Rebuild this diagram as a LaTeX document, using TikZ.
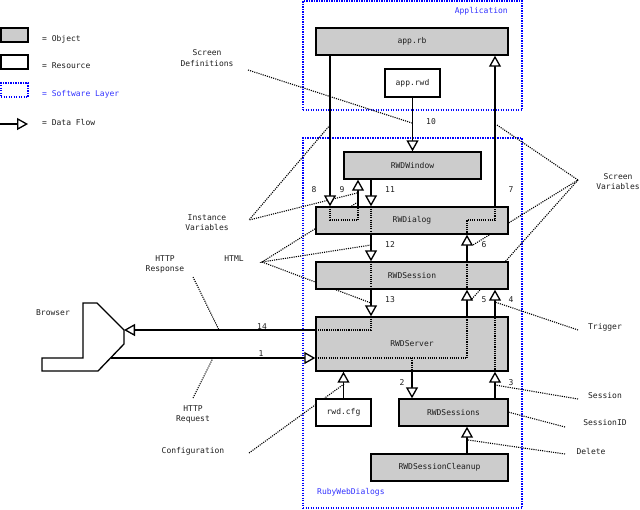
\documentclass[tikz,border=0pt]{standalone}
\usepackage{fontspec}
\setmonofont{DejaVu Sans Mono}
\usetikzlibrary{arrows.meta}
\definecolor{objgray}{RGB}{204,204,204}
\definecolor{layerblue}{RGB}{0,0,255}
\definecolor{txtblue}{RGB}{51,51,255}
\definecolor{ink}{RGB}{30,30,30}
\tikzset{
  every node/.style={font=\ttfamily\fontsize{8}{10.5}\selectfont, text=ink},
  obj/.style={draw=black, line width=1.4pt, fill=objgray, inner sep=0pt},
  res/.style={draw=black, line width=1.4pt, fill=white, inner sep=0pt},
  layer/.style={draw=layerblue, line width=1.2pt, dash pattern=on 1.2pt off 1.3pt},
  leader/.style={draw=black, line width=1.1pt, dash pattern=on 1.1pt off 1.1pt},
  innerpath/.style={draw=black, line width=1.1pt, dash pattern=on 1.1pt off 1.1pt},
  flow/.style={draw=black, line width=1.3pt, -{Triangle[length=11pt, width=12pt, fill=white]}},
  wire/.style={draw=black, line width=1.3pt},
  lbl/.style={align=center, inner sep=0pt},
  bluelbl/.style={inner sep=0pt, text=txtblue},
}
\begin{document}
\begin{tikzpicture}[x=1pt,y=-1pt]
\useasboundingbox (0,0) rectangle (640,509);

% ---------- legend ----------
\node[obj, minimum width=27pt, minimum height=14pt] (lgobj) at (14.5,35) {};
\node[res, minimum width=27pt, minimum height=14pt] (lgres) at (14.5,62) {};
\node[layer, minimum width=27pt, minimum height=14pt, inner sep=0pt] (lglay) at (14.5,90) {};
\coordinate (lgf0) at (0,124);
\coordinate (lgf1) at (28,124);
\draw[flow] (lgf0) -- (lgf1);
\node[lbl, anchor=west] (tobj) at (42,39) {= Object};
\node[lbl, anchor=west] (tres) at (42,66) {= Resource};
\node[bluelbl, anchor=west] (tlay) at (42,94) {= Software Layer};
\node[lbl, anchor=west] (tflow) at (42,122) {= Data Flow};

% ---------- software layers ----------
\node[layer, minimum width=219pt, minimum height=109pt, inner sep=0pt] (application) at (412.5,55.5) {};
\node[layer, minimum width=219pt, minimum height=370pt, inner sep=0pt] (rubyweb) at (412.5,323) {};
\node[bluelbl, anchor=east] (tapp) at (508,11) {Application};
\node[bluelbl, anchor=west] (truby) at (317,492) {RubyWebDialogs};

% ---------- annotation texts ----------
\node[lbl] (tsd) at (207,58) {Screen\\Definitions};
\node[lbl] (tiv) at (207,222.5) {Instance\\Variables};
\node[lbl] (thtml) at (234,259) {HTML};
\node[lbl] (tresp) at (165,264.5) {HTTP\\Response};
\node[lbl] (tbrowser) at (53,313) {Browser};
\node[lbl] (treq) at (193,414.5) {HTTP\\Request};
\node[lbl] (tconf) at (193,451) {Configuration};
\node[lbl] (tsv) at (618,181.5) {Screen\\Variables};
\node[lbl] (ttrig) at (605,327) {Trigger};
\node[lbl] (tsess) at (605,396) {Session};
\node[lbl] (tsid) at (605,423) {SessionID};
\node[lbl] (tdel) at (591,451) {Delete};

% ---------- leader lines (behind boxes) ----------
\coordinate (sd0) at (248,70);   \coordinate (sd1) at (412,123);
\coordinate (iv0) at (249,220);  \coordinate (iv1) at (330,125); \coordinate (iv2) at (357,193);
\coordinate (ht0) at (262,262);  \coordinate (ht1) at (358,202); \coordinate (ht2) at (371,245); \coordinate (ht3) at (371,303);
\coordinate (rs0) at (193,277);  \coordinate (rs1) at (219,330);
\coordinate (rq0) at (193,398);  \coordinate (rq1) at (213,358);
\coordinate (cf0) at (249,453);  \coordinate (cf1) at (344,384);
\coordinate (sv0) at (578,180);  \coordinate (sv1) at (497,125); \coordinate (sv2) at (473,245); \coordinate (sv3) at (471,300);
\coordinate (tg0) at (578,330);  \coordinate (tg1) at (495,302);
\coordinate (ss0) at (578,399);  \coordinate (ss1) at (495,385);
\coordinate (si0) at (565,427);  \coordinate (si1) at (508,412);
\coordinate (dl0) at (565,454);  \coordinate (dl1) at (468,440);
\draw[leader] (sd0) -- (sd1);
\draw[leader] (iv1) -- (iv0) -- (iv2);
\draw[leader] (ht1) -- (ht0) -- (ht2);
\draw[leader] (ht0) -- (ht3);
\draw[leader] (rs0) -- (rs1);
\draw[leader] (rq0) -- (rq1);
\draw[leader] (cf0) -- (cf1);
\draw[leader] (sv1) -- (sv0) -- (sv2);
\draw[leader] (sv0) -- (sv3);
\draw[leader] (tg0) -- (tg1);
\draw[leader] (ss0) -- (ss1);
\draw[leader] (si0) -- (si1);
\draw[leader] (dl0) -- (dl1);

% ---------- boxes ----------
\node[obj, minimum width=192pt, minimum height=27pt] (apprb) at (412,41.5) {app.rb};
\node[res, minimum width=55pt, minimum height=28pt] (apprwd) at (412.5,83) {app.rwd};
\node[obj, minimum width=137pt, minimum height=27pt] (rwdwin) at (412.5,165.5) {RWDWindow};
\node[obj, minimum width=192pt, minimum height=27pt] (rwdialog) at (412,220.5) {RWDialog};
\node[obj, minimum width=192pt, minimum height=27pt] (rwdsession) at (412,275.5) {RWDSession};
\node[obj, minimum width=192pt, minimum height=54pt] (rwdserver) at (412,344) {RWDServer};
\node[res, minimum width=55pt, minimum height=27pt] (rwdcfg) at (343.5,412.5) {rwd.cfg};
\node[obj, minimum width=109pt, minimum height=27pt] (rwdsessions) at (453.5,412.5) {RWDSessions};
\node[obj, minimum width=137pt, minimum height=27pt] (cleanup) at (439.5,467.5) {RWDSessionCleanup};

% ---------- browser ----------
\coordinate (b1) at (83,303);  \coordinate (b2) at (97,303);
\coordinate (brtip) at (124,330); \coordinate (b4) at (124,344);
\coordinate (b5) at (98,371);  \coordinate (b6) at (42,371);
\coordinate (b7) at (42,358);  \coordinate (b8) at (83,358);
\draw[wire, line join=miter] (b1) -- (b2) -- (brtip) -- (b4) -- (b5) -- (b6) -- (b7) -- (b8) -- cycle;
\coordinate (br1) at (110.5,358);

% ---------- columns and bends ----------
\coordinate (x8) at (330,0);
\coordinate (x9) at (358,0);
\coordinate (x11) at (371,0);
\coordinate (x2) at (412,0);
\coordinate (x5) at (467,0);
\coordinate (x4) at (495,0);
\coordinate (d8) at (330,220);
\coordinate (d9) at (358,220);
\coordinate (d14) at (371,330);
\coordinate (d1) at (467,358);
\coordinate (d6) at (467,220);
\coordinate (d7) at (495,220);

% ---------- data flow ----------
% 10
\draw[flow] (apprwd.south) -- (rwdwin.north);
% 8
\draw[flow] (x8 |- apprb.south) -- (x8 |- rwdialog.north);
% 9
\draw[innerpath] (x8 |- rwdialog.north) -- (d8) -- (d9) -- (x9 |- rwdialog.north);
\draw[flow] (x9 |- rwdialog.north) -- (x9 |- rwdwin.south);
% 11
\draw[flow] (x11 |- rwdwin.south) -- (x11 |- rwdialog.north);
% 12
\draw[innerpath] (x11 |- rwdialog.north) -- (x11 |- rwdialog.south);
\draw[flow] (x11 |- rwdialog.south) -- (x11 |- rwdsession.north);
% 13
\draw[innerpath] (x11 |- rwdsession.north) -- (x11 |- rwdsession.south);
\draw[flow] (x11 |- rwdsession.south) -- (x11 |- rwdserver.north);
% 14
\draw[innerpath] (x11 |- rwdserver.north) -- (d14) -- (d14 -| rwdserver.west);
\draw[flow] (d14 -| rwdserver.west) -- (brtip);
% 1
\draw[flow] (br1) -- (br1 -| rwdserver.west);
\draw[innerpath] (br1 -| rwdserver.west) -- (d1) -- (x5 |- rwdserver.north);
% 5
\draw[flow] (x5 |- rwdserver.north) -- (x5 |- rwdsession.south);
\draw[innerpath] (x5 |- rwdsession.south) -- (x5 |- rwdsession.north);
% 6
\draw[flow] (x5 |- rwdsession.north) -- (x5 |- rwdialog.south);
\draw[innerpath] (x5 |- rwdialog.south) -- (d6) -- (d7) -- (x4 |- rwdialog.north);
% 7
\draw[flow] (x4 |- rwdialog.north) -- (x4 |- apprb.south);
% 2
\draw[innerpath] (x2 |- d1) -- (x2 |- rwdserver.south);
\draw[flow] (x2 |- rwdserver.south) -- (x2 |- rwdsessions.north);
% 3
\draw[flow] (x4 |- rwdsessions.north) -- (x4 |- rwdserver.south);
\draw[innerpath] (x4 |- rwdserver.south) -- (x4 |- rwdserver.north);
% 4
\draw[flow] (x4 |- rwdserver.north) -- (x4 |- rwdsession.south);
% config
\draw[flow] (rwdcfg.north) -- (rwdcfg.north |- rwdserver.south);
% cleanup
\draw[flow] (x5 |- cleanup.north) -- (x5 |- rwdsessions.south);

% ---------- numbers ----------
\node[lbl] (n10) at (431,122) {10};
\node[lbl] (n8) at (314,190) {8};
\node[lbl] (n9) at (342,190) {9};
\node[lbl] (n11) at (390,190) {11};
\node[lbl] (n7) at (511,190) {7};
\node[lbl] (n12) at (390,245) {12};
\node[lbl] (n6) at (484,245) {6};
\node[lbl] (n13) at (390,300) {13};
\node[lbl] (n5) at (484,300) {5};
\node[lbl] (n4) at (511,300) {4};
\node[lbl] (n14) at (262,327) {14};
\node[lbl] (n1) at (261,354) {1};
\node[lbl] (n2) at (402,383) {2};
\node[lbl] (n3) at (511,383) {3};
\end{tikzpicture}
\end{document}
